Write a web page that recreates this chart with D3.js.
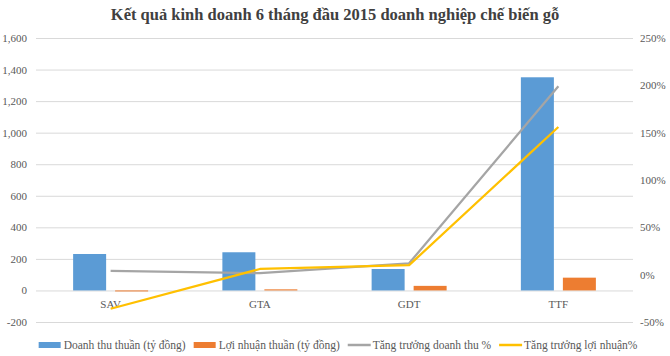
<!DOCTYPE html>
<html><head><meta charset="utf-8">
<script src="https://cdn.jsdelivr.net/npm/d3@7"></script>
<style>body{margin:0;background:#fff}svg{display:block}</style>
</head><body>
<svg id="c" width="670" height="356"></svg>
<script>
const categories = ["SAV", "GTA", "GDT", "TTF"];
const revenue = [231, 242, 136, 1351];
const profit = [-5, 7, 29, 81];
const revGrowth = [4, 1.5, 12, 199];
const profitGrowth = [-36, 6, 10, 156];
const leftTicks = [-200, 0, 200, 400, 600, 800, 1000, 1200, 1400, 1600];
const rightTicks = [-50, 0, 50, 100, 150, 200, 250];
const title = "Kết quả kinh doanh 6 tháng đầu 2015 doanh nghiệp chế biến gỗ";
const seriesNames = ["Doanh thu thuần (tỷ đồng)", "Lợi nhuận thuần (tỷ đồng)", "Tăng trưởng doanh thu %", "Tăng trưởng lợi nhuận%"];
const colors = ["#5B9BD5", "#ED7D31", "#A5A5A5", "#FFC000"];

const svg = d3.select("#c");
const font = "'Liberation Serif','Times New Roman',serif";
const L = 36, R = 633, T = 38, B = 322;

const x = d3.scaleBand().domain(categories).range([L, R]);
const yL = d3.scaleLinear().domain([-200, 1600]).range([B, T]);
const yR = d3.scaleLinear().domain([-50, 250]).range([B, T]);

const fmtL = d => d3.format(",")(d).replace("\u2212", "-");
const fmtR = d => String(d).replace("\u2212", "-") + "%";

svg.append("text").attr("x", 335).attr("y", 20).attr("text-anchor", "middle")
  .attr("font-family", font).attr("font-weight", "bold").attr("font-size", 16.5)
  .attr("fill", "#404040").text(title);

// gridlines
svg.append("g").selectAll("line").data(leftTicks).join("line")
  .attr("x1", L).attr("x2", R).attr("y1", d => yL(d) + 0.5).attr("y2", d => yL(d) + 0.5)
  .attr("stroke", "#D9D9D9").attr("stroke-width", 1);

// left axis
const gl = svg.append("g").attr("transform", `translate(${L},0)`)
  .call(d3.axisLeft(yL).tickValues(leftTicks).tickSize(0).tickPadding(9).tickFormat(fmtL));
gl.select(".domain").remove();
gl.selectAll("text").attr("font-family", font).attr("font-size", 11).attr("fill", "#595959");

// right axis
const gr = svg.append("g").attr("transform", `translate(${R},0)`)
  .call(d3.axisRight(yR).tickValues(rightTicks).tickSize(0).tickPadding(7).tickFormat(fmtR));
gr.select(".domain").remove();
gr.selectAll("text").attr("font-family", font).attr("font-size", 11).attr("fill", "#595959");

// bars
const bw = 33, gap = 9;
const cx = c => x(c) + x.bandwidth() / 2;
svg.append("g").selectAll("rect").data(categories).join("rect")
  .attr("x", c => cx(c) - gap / 2 - bw).attr("width", bw)
  .attr("y", (c, i) => yL(Math.max(0, revenue[i]))).attr("height", (c, i) => Math.abs(yL(revenue[i]) - yL(0)))
  .attr("fill", colors[0]);
svg.append("g").selectAll("rect").data(categories).join("rect")
  .attr("x", c => cx(c) + gap / 2).attr("width", bw)
  .attr("y", (c, i) => yL(Math.max(0, profit[i]))).attr("height", (c, i) => Math.max(1, Math.abs(yL(profit[i]) - yL(0))))
  .attr("fill", colors[1]);

// category labels
svg.append("g").selectAll("text").data(categories).join("text")
  .attr("x", c => cx(c)).attr("y", yL(0) + 18).attr("text-anchor", "middle")
  .attr("font-family", font).attr("font-size", 11).attr("fill", "#595959").text(c => c);

// lines
const line = d3.line().x((d, i) => cx(categories[i])).y(d => yR(d));
svg.append("path").datum(revGrowth).attr("d", line).attr("fill", "none")
  .attr("stroke", colors[2]).attr("stroke-width", 2.25).attr("stroke-linejoin", "round");
svg.append("path").datum(profitGrowth).attr("d", line).attr("fill", "none")
  .attr("stroke", colors[3]).attr("stroke-width", 2.25).attr("stroke-linejoin", "round");

// legend
const lg = svg.append("g");
let xPos = 0;
seriesNames.forEach((n, i) => {
  const g = lg.append("g").attr("transform", `translate(${xPos},0)`);
  if (i < 2) g.append("rect").attr("x", 0).attr("y", -3).attr("width", 22).attr("height", 6).attr("fill", colors[i]);
  else g.append("line").attr("x1", 0).attr("x2", 23).attr("y1", 0).attr("y2", 0).attr("stroke", colors[i]).attr("stroke-width", 2.5);
  const t = g.append("text").attr("x", 25).attr("y", 4).attr("font-family", font).attr("font-size", 11.5).attr("fill", "#595959").text(n);
  xPos += 25 + t.node().getComputedTextLength() + 8;
});
const totalW = xPos - 8;
lg.attr("transform", `translate(${338 - totalW / 2},345)`);
</script>
</body></html>
